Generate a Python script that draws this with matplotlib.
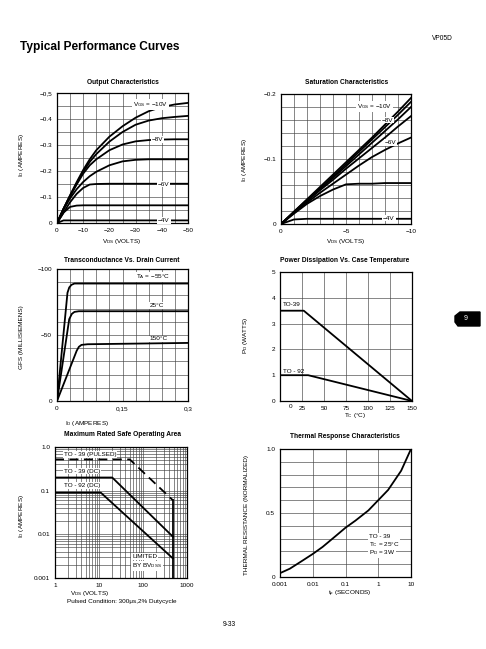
import numpy as np
import matplotlib
matplotlib.use('Agg')
import matplotlib.pyplot as plt
from matplotlib.patches import Polygon

plt.rcParams['font.family'] = ['Liberation Sans', 'DejaVu Sans']
plt.rcParams['mathtext.fontset'] = 'custom'
plt.rcParams['mathtext.rm'] = 'Liberation Sans'

W, H = 486, 649

# Output characteristics (VDS in volts, ID in amperes)
vds_out = [0, -2.5, -5, -7.5, -10, -12.5, -15, -20, -25, -30, -35, -40, -45, -50]
id_out_10 = [0, -0.055, -0.107, -0.157, -0.204, -0.245, -0.28, -0.332, -0.372, -0.405, -0.43, -0.446, -0.456, -0.462]
id_out_9 = [0, -0.055, -0.105, -0.152, -0.197, -0.235, -0.265, -0.313, -0.35, -0.378, -0.394, -0.403, -0.408, -0.412]
id_out_8 = [0, -0.055, -0.103, -0.148, -0.19, -0.222, -0.245, -0.28, -0.302, -0.314, -0.319, -0.321, -0.322, -0.322]
id_out_7 = [0, -0.052, -0.095, -0.13, -0.158, -0.18, -0.197, -0.222, -0.237, -0.243, -0.245, -0.245, -0.245, -0.245]
id_out_6 = [0, -0.04, -0.08, -0.112, -0.135, -0.148, -0.15, -0.151, -0.151, -0.151, -0.151, -0.151, -0.151, -0.151]
id_out_5 = [0, -0.04, -0.062, -0.067, -0.068, -0.068, -0.068, -0.068, -0.068, -0.068, -0.068, -0.068, -0.068, -0.068]
id_out_4 = [0, -0.01, -0.01, -0.01, -0.01, -0.01, -0.01, -0.01, -0.01, -0.01, -0.01, -0.01, -0.01, -0.01]

# Saturation characteristics
vds_sat = [0, -1, -2, -3, -4, -5, -6, -7, -8, -9, -10]
id_sat_10 = [0, -0.019, -0.038, -0.057, -0.076, -0.095, -0.114, -0.133, -0.153, -0.173, -0.194]
id_sat_9 = [0, -0.019, -0.037, -0.055, -0.073, -0.092, -0.111, -0.13, -0.149, -0.168, -0.188]
id_sat_8 = [0, -0.018, -0.036, -0.054, -0.071, -0.089, -0.107, -0.125, -0.143, -0.161, -0.18]
id_sat_7 = [0, -0.018, -0.035, -0.052, -0.068, -0.085, -0.101, -0.117, -0.133, -0.15, -0.166]
id_sat_6 = [0, -0.017, -0.033, -0.048, -0.062, -0.076, -0.09, -0.103, -0.114, -0.124, -0.133]
id_sat_5 = [0, -0.016, -0.031, -0.043, -0.053, -0.061, -0.062, -0.062, -0.063, -0.063, -0.063]
id_sat_4 = [0, -0.007, -0.008, -0.008, -0.008, -0.008, -0.008, -0.008, -0.008, -0.008, -0.008]

# Transconductance vs drain current
id_gfs_m55 = [0, 0.024, 0.028, 0.033, 0.04, 0.3]
gfs_m55 = [0, -82, -86, -88, -89, -89]
id_gfs_25 = [0, 0.028, 0.034, 0.04, 0.05, 0.3]
gfs_25 = [0, -62, -66, -67.5, -68, -68]
id_gfs_150 = [0, 0.045, 0.05, 0.056, 0.07, 0.3]
gfs_150 = [0, -38, -41, -42.5, -43, -44]

# Power dissipation vs case temperature
tc_39 = [0, 27, 150]
pd_39 = [3.5, 3.5, 0]
tc_92 = [0, 32, 150]
pd_92 = [1.0, 1.0, 0]

# Safe operating area
soa_pulsed_v = [1, 50, 480]
soa_pulsed_i = [0.52, 0.52, 0.06]
soa_bv_v = [480, 480]
soa_bv_i = [0.06, 0.001]
soa_39_v = [1, 20, 480]
soa_39_i = [0.2, 0.2, 0.0088]
soa_92_v = [1, 11, 480]
soa_92_i = [0.09, 0.09, 0.0028]

# Thermal response
tp = [0.001, 0.002, 0.005, 0.01, 0.02, 0.05, 0.1, 0.2, 0.5, 1, 2, 5, 10]
rth = [0.03, 0.065, 0.13, 0.18, 0.235, 0.32, 0.385, 0.44, 0.52, 0.6, 0.68, 0.83, 1.0]

fig = plt.figure(figsize=(W / 100, H / 100), dpi=100)
fig.patch.set_facecolor('white')


def pax(x0, y0, x1, y1):
    return fig.add_axes([x0 / W, 1 - y1 / H, (x1 - x0) / W, (y1 - y0) / H])


def ftxt(x, y, s, **kw):
    kw.setdefault('fontsize', 4.6)
    kw.setdefault('ha', 'center')
    kw.setdefault('va', 'center')
    fig.text(x / W, 1 - y / H, s, **kw)


def style(ax):
    ax.tick_params(which='both', length=0, labelsize=4.6, pad=3.5)
    for s in ax.spines.values():
        s.set_linewidth(0.9)
    ax.grid(which='both', color='#444444', lw=0.45)
    ax.set_axisbelow(True)


lab = dict(fontsize=4.6, ha='center', va='center',
           bbox=dict(fc='white', ec='none', pad=0.6))
lab_l = dict(lab, ha='left')
LW = 1.3
ID_LABEL = r'I$_{\mathregular{D}}$ (AMPERES)'
VDS_LABEL = r'V$_{\mathregular{DS}}$ (VOLTS)'

# ---- Output characteristics
ax1 = pax(57, 93, 188, 223)
for ic in [id_out_10, id_out_9, id_out_8, id_out_7, id_out_6, id_out_5, id_out_4]:
    ax1.plot(vds_out, ic, color='black', lw=LW)
ax1.set_xlim(0, -50)
ax1.set_ylim(0, -0.5)
ax1.set_xticks([0, -10, -20, -30, -40, -50])
ax1.set_xticklabels(['0', '−10', '−20', '−30', '−40', '−50'])
ax1.set_yticks([0, -0.1, -0.2, -0.3, -0.4, -0.5])
ax1.set_yticklabels(['0', '−0.1', '−0.2', '−0.3', '−0.4', '−0,5'])
ax1.set_xticks(np.arange(0, -51, -5), minor=True)
ax1.set_yticks(np.arange(0, -0.51, -0.05), minor=True)
style(ax1)
ax1.text(-35.8, -0.455, r'V$_{\mathregular{GS}}$ = −10V', **lab)
ax1.text(-38.4, -0.32, '−8V', **lab)
ax1.text(-40.7, -0.15, '−6V', **lab)
ax1.text(-40.8, -0.01, '−4V', **lab)

# ---- Saturation characteristics
ax2 = pax(281, 94, 411, 224)
for ic in [id_sat_10, id_sat_9, id_sat_8, id_sat_7, id_sat_6, id_sat_5, id_sat_4]:
    ax2.plot(vds_sat, ic, color='black', lw=LW)
ax2.set_xlim(0, -10)
ax2.set_ylim(0, -0.2)
ax2.set_xticks([0, -5, -10])
ax2.set_xticklabels(['0', '−5', '−10'])
ax2.set_yticks([0, -0.1, -0.2])
ax2.set_yticklabels(['0', '−0.1', '−0.2'])
ax2.set_xticks(np.arange(0, -10.1, -1), minor=True)
ax2.set_yticks(np.arange(0, -0.201, -0.02), minor=True)
style(ax2)
ax2.text(-7.2, -0.181, r'V$_{\mathregular{GS}}$ = −10V', **lab)
ax2.text(-8.2, -0.160, '−8V', **lab)
ax2.text(-8.4, -0.125, '−6V', **lab)
ax2.text(-8.3, -0.009, '−4V', **lab)

# ---- Transconductance vs drain current (curves drawn over their labels)
ax3 = pax(57, 269, 188, 401)
ax3.plot(id_gfs_m55, gfs_m55, color='black', lw=LW, zorder=5)
ax3.plot(id_gfs_25, gfs_25, color='black', lw=LW, zorder=5)
ax3.plot(id_gfs_150, gfs_150, color='black', lw=LW, zorder=5)
ax3.set_xlim(0, 0.3)
ax3.set_ylim(0, -100)
ax3.set_xticks([0, 0.15, 0.3])
ax3.set_xticklabels(['0', '0,15', '0,3'])
ax3.set_yticks([0, -50, -100])
ax3.set_yticklabels(['0', '−50', '−100'])
ax3.set_xticks(np.arange(0, 0.301, 0.03), minor=True)
ax3.set_yticks(np.arange(0, -101, -10), minor=True)
style(ax3)
ax3.text(0.221, -94, r'T$_{\mathregular{A}}$ = −55°C', **lab)
ax3.text(0.229, -72.5, '25°C', **lab)
ax3.text(0.232, -47, '150°C', **lab)

# ---- Power dissipation vs case temperature
ax4 = pax(280, 272, 412, 401)
ax4.plot(tc_39, pd_39, color='black', lw=LW)
ax4.plot(tc_92, pd_92, color='black', lw=LW)
ax4.set_xlim(0, 150)
ax4.set_ylim(0, 5)
ax4.set_xticks([25, 50, 75, 100, 125, 150])
ax4.set_yticks([0, 1, 2, 3, 4, 5])
ax4.set_xticks(np.arange(0, 151, 25), minor=True)
style(ax4)
ax4.text(12, -0.12, '0', fontsize=4.6, ha='center', va='top')
ax4.text(3, 3.75, 'TO-39', fontsize=4.6, ha='left', va='center')
ax4.text(3, 1.15, 'TO - 92', fontsize=4.6, ha='left', va='center')

# ---- Safe operating area
ax5 = pax(55, 447, 187, 578)
ax5.set_xscale('log')
ax5.set_yscale('log')
ax5.plot(soa_pulsed_v, soa_pulsed_i, color='black', lw=LW, ls=(0, (5, 3)))
ax5.plot(soa_bv_v, soa_bv_i, color='black', lw=LW)
ax5.plot(soa_39_v, soa_39_i, color='black', lw=LW)
ax5.plot(soa_92_v, soa_92_i, color='black', lw=LW)
ax5.set_xlim(1, 1000)
ax5.set_ylim(0.001, 1.0)
ax5.set_xticks([1, 10, 100, 1000])
ax5.set_xticklabels(['1', '10', '100', '1000'])
ax5.set_yticks([0.001, 0.01, 0.1, 1.0])
ax5.set_yticklabels(['0.001', '0.01', '0.1', '1.0'])
ax5.xaxis.set_minor_formatter(plt.NullFormatter())
ax5.yaxis.set_minor_formatter(plt.NullFormatter())
style(ax5)
ax5.text(1.6, 0.68, 'TO - 39 (PULSED)', **lab_l)
ax5.text(1.6, 0.28, 'TO - 39 (DC)', **lab_l)
ax5.text(1.6, 0.13, 'TO - 92 (DC)', **lab_l)
ax5.text(57, 0.0031, 'LIMITED', **lab_l)
ax5.text(57, 0.0019, r'BY BV$_{\mathregular{DSS}}$', **lab_l)

# ---- Thermal response
ax6 = pax(280, 449, 411, 577)
ax6.set_xscale('log')
ax6.plot(tp, rth, color='black', lw=LW)
ax6.set_xlim(0.001, 10)
ax6.set_ylim(0, 1.0)
ax6.set_xticks([0.001, 0.01, 0.1, 1, 10])
ax6.set_xticklabels(['0.001', '0.01', '0.1', '1', '10'])
ax6.xaxis.set_minor_locator(plt.NullLocator())
ax6.set_yticks([0, 0.5, 1.0])
ax6.set_yticklabels(['0', '0.5', '1.0'])
ax6.set_yticks(np.arange(0, 1.01, 0.1), minor=True)
style(ax6)
ax6.text(0.52, 0.32, 'TO - 39', **lab_l)
ax6.text(0.52, 0.255, r'T$_{\mathregular{C}}$ = 25°C', **lab_l)
ax6.text(0.52, 0.19, r'P$_{\mathregular{D}}$ = 3W', **lab_l)

# ---- titles and axis labels
tkw = dict(fontsize=4.8, fontweight='bold')
ftxt(123, 83, 'Output Characteristics', **tkw)
ftxt(347, 83, 'Saturation Characteristics', **tkw)
ftxt(122, 260, 'Transconductance Vs. Drain Current', **tkw)
ftxt(345, 260, 'Power Dissipation Vs. Case Temperature', **tkw)
ftxt(122, 435, 'Maximum Rated Safe Operating Area', **tkw)
ftxt(345, 436, 'Thermal Response Characteristics', **tkw)

ftxt(22, 155, ID_LABEL, rotation=90)
ftxt(244, 160, ID_LABEL, rotation=90)
ftxt(22, 337, 'GFS (MILLISIEMENS)', rotation=90)
ftxt(245, 335, r'P$_{\mathregular{D}}$ (WATTS)', rotation=90)
ftxt(22, 516, ID_LABEL, rotation=90)
ftxt(246, 515, 'THERMAL RESISTANCE (NORMALIZED)', rotation=90)

ftxt(122, 241, VDS_LABEL)
ftxt(346, 242, VDS_LABEL)
ftxt(87, 424, ID_LABEL)
ftxt(355, 415, r'T$_{\mathregular{C}}$ (°C)')
ftxt(90, 594, VDS_LABEL)
ftxt(122, 602, 'Pulsed Condition: 300μs,2% Dutycycle')
ftxt(350, 594, r't$_{\mathregular{p}}$ (SECONDS)')

# ---- page text
ftxt(20, 47, 'Typical Performance Curves', fontsize=8.6, fontweight='bold', ha='left')
ftxt(442, 39, 'VP05D', fontsize=4.8, ha='center')
ftxt(229, 625, '9-33', fontsize=4.8)

# section tab
tab = Polygon([(455 / W, 1 - 316 / H), (460 / W, 1 - 312 / H), (480 / W, 1 - 312 / H),
               (480 / W, 1 - 326 / H), (458 / W, 1 - 326 / H), (455 / W, 1 - 322 / H)],
              closed=True, transform=fig.transFigure, fc='black', ec='black')
fig.patches.append(tab)
ftxt(466, 319, '9', fontsize=5, color='white')

fig.savefig('out.png', dpi=100)
